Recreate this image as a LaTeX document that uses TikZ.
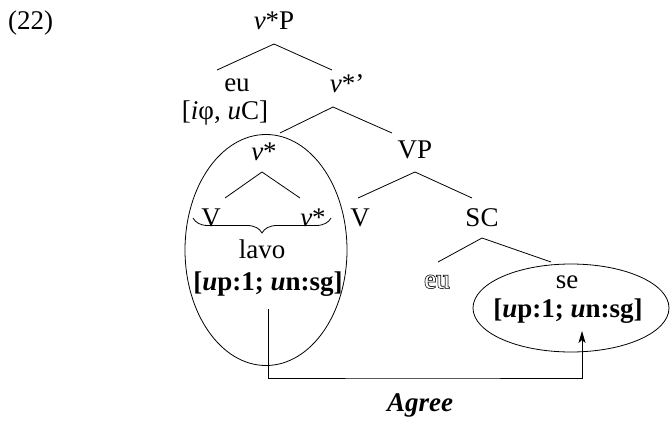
\documentclass[tikz,border=0pt]{standalone}
\usepackage{fontspec}
\setmainfont{Liberation Serif}
\newfontfamily\fakeboldfont[FakeBold=5]{Liberation Serif}
\usetikzlibrary{calc,arrows.meta,decorations.pathreplacing,shapes.geometric}
\begin{document}
\begin{tikzpicture}[x=1pt,y=-1pt,
  lab/.style={anchor=base,inner sep=0pt,font=\fontsize{27}{31}\selectfont},
  edge/.style={line width=0.8pt},
  circ/.style={draw,line width=0.8pt,ellipse}]
\useasboundingbox (0,0) rectangle (671,420);
% labels
\node[lab,anchor=base west] (num) at (8,30) {(22)};
\node[lab] (vP) at (274,30) {\textit{v}*P};
\node[lab] (eu) at (237,91) {eu};
\node[lab] (euf) at (225,119) {[\textit{i}φ, \textit{u}C]};
\node[lab] (vbar) at (347,92) {\textit{v}*’};
\node[lab] (vstar) at (264,160) {\textit{v}*};
\node[lab] (V1) at (211,226) {V};
\node[lab] (v2) at (313,226) {\textit{v}*};
\node[lab] (lavo) at (262,258) {lavo};
\node[lab] (lf) at (268,290) {\textbf{[\textit{u}p:1; \textit{u}n:sg]}};
\node[lab] (VP) at (415,158) {VP};
\node[lab] (V2) at (360,226) {V};
\node[lab] (SC) at (482,226) {SC};
\node[lab,text=black] (euc) at (437,288) {\fakeboldfont eu};
\node[lab,text=white] (euw) at (437,288) {eu};
\node[lab] (se) at (567,288) {se};
\node[lab] (sf) at (568,317) {\textbf{[\textit{u}p:1; \textit{u}n:sg]}};
\node[lab] (agree) at (420,411) {\textbf{\textit{Agree}}};
% tree branches
\draw[edge] ($(vP.base)+(0,14)$) -- ($(eu.base)+(-20,-21)$);
\draw[edge] ($(vP.base)+(0,14)$) -- ($(vbar.base)+(-15,-22)$);
\draw[edge] ($(vbar.base)+(-14,15)$) -- ($(vstar.base)+(16,-27)$);
\draw[edge] ($(vbar.base)+(-14,15)$) -- ($(VP.base)+(-23,-25)$);
\draw[edge] ($(vstar.base)+(-2,12)$) -- ($(V1.base)+(14,-28)$);
\draw[edge] ($(vstar.base)+(-2,12)$) -- ($(v2.base)+(-13,-28)$);
\draw[edge] ($(VP.base)+(0,14)$) -- ($(V2.base)+(-2,-28)$);
\draw[edge] ($(VP.base)+(0,14)$) -- ($(SC.base)+(-10,-28)$);
\draw[edge] ($(SC.base)+(0,12)$) -- ($(euc.base)+(1,-26)$);
\draw[edge] ($(SC.base)+(0,12)$) -- ($(se.base)+(-16,-26)$);
% brace
\draw[edge,decorate,decoration={brace,mirror,amplitude=15pt,aspect=0.5}]
  ($(V1.base)+(-18,-8)$) -- ($(v2.base)+(18,-8)$);
% ellipses
\node[circ,minimum width=162pt,minimum height=231pt] (E1) at (266,250) {};
\node[circ,minimum width=196pt,minimum height=88pt] (E2) at (571,308) {};
% Agree arrow
\draw[edge,-{Stealth[length=12pt,width=7pt,inset=3pt]}]
  ($(lf.base)+(0,19)$) |- ($(agree.base)+(0,-33)$) -| ($(sf.base)+(14,14)$);
\end{tikzpicture}
\end{document}
